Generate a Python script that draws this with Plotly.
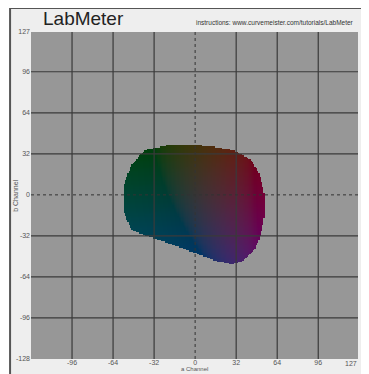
import numpy as np
import plotly.graph_objects as go

# ---- data ----
title_text = "LabMeter"
note_text = "instructions: www.curvemeister.com/tutorials/LabMeter"
x_tick_vals = [-96, -64, -32, 0, 32, 64, 96]
x_end_tick = 127
y_tick_vals = [-128, -96, -64, -32, 0, 32, 64, 96, 127]
grid_vals = [-96, -64, -32, 32, 64, 96]
# outline of the gamut blob (a, b)
outline_a = [-39, -49, -55, -55, -49, -34, -16, 3, 16, 29, 39, 47, 52, 55, 55, 51, 45, 31, 13, -2, -20]
outline_b = [35, 23, 8, -13, -27, -33, -39, -46, -51, -54, -51, -43, -31, -16, 0, 16, 27, 35, 38, 39, 39]
lightness = 22
a_scale = 0.95
b_scale = 0.7


def lab_to_rgb(L, a, b):
    fy = (L + 16) / 116.0
    fx = fy + a / 500.0
    fz = fy - b / 200.0
    def finv(t):
        return np.where(t > 6 / 29, t ** 3, 3 * (6 / 29) ** 2 * (t - 4 / 29))
    X = 0.95047 * finv(fx)
    Y = 1.0 * finv(fy)
    Z = 1.08883 * finv(fz)
    r = 3.2406 * X - 1.5372 * Y - 0.4986 * Z
    g = -0.9689 * X + 1.8758 * Y + 0.0415 * Z
    bb = 0.0557 * X - 0.2040 * Y + 1.0570 * Z
    def gam(c):
        c = np.clip(c, 0, 1)
        return np.where(c <= 0.0031308, 12.92 * c, 1.055 * c ** (1 / 2.4) - 0.055)
    return gam(r) * 255, gam(g) * 255, gam(bb) * 255


def inside(px, py, vx, vy):
    vx = np.asarray(vx, float)
    vy = np.asarray(vy, float)
    res = np.zeros(px.shape, bool)
    n = len(vx)
    j = n - 1
    for i in range(n):
        cond = ((vy[i] > py) != (vy[j] > py))
        xint = (vx[j] - vx[i]) * (py - vy[i]) / (vy[j] - vy[i] + 1e-12) + vx[i]
        res ^= cond & (px < xint)
        j = i
    return res


grid = np.arange(-128, 128)
A, B = np.meshgrid(grid, grid)  # row 0 -> b=-128
mask = inside(A + 0.5, B + 0.5, outline_a, outline_b)
R, G, Bl = lab_to_rgb(lightness, A * a_scale, B * b_scale)
img = np.zeros(A.shape + (4,))
img[..., 0] = R
img[..., 1] = G
img[..., 2] = Bl
img[..., 3] = np.where(mask, 1.0, 0.0)

fig = go.Figure()
fig.add_trace(go.Image(z=img, colormodel="rgba", x0=-128, dx=1, y0=-128, dy=1,
                       hoverinfo="skip"))

shapes = []
# outer panel (paper coords; plot area spans 0..1)
shapes.append(dict(type="rect", xref="paper", yref="paper", x0=-0.064, x1=1.012, y0=-0.1, y1=1.07,
                   fillcolor="#eeeeee", line=dict(width=0), layer="below"))
shapes.append(dict(type="line", xref="paper", yref="paper", x0=-0.064, x1=1.012, y0=1.07, y1=1.07,
                   line=dict(color="#555555", width=2), layer="below"))
shapes.append(dict(type="line", xref="paper", yref="paper", x0=-0.064, x1=-0.064, y0=-0.1, y1=1.07,
                   line=dict(color="#555555", width=2), layer="below"))
shapes.append(dict(type="rect", xref="x", yref="y", x0=-128, x1=127, y0=-128, y1=127,
                   fillcolor="#979797", line=dict(width=0), layer="below"))
for v in grid_vals:
    shapes.append(dict(type="line", xref="x", yref="y", x0=v, x1=v, y0=-128, y1=127,
                       line=dict(color="#3a3a3a", width=1.2), layer="above"))
    shapes.append(dict(type="line", xref="x", yref="y", x0=-128, x1=127, y0=v, y1=v,
                       line=dict(color="#3a3a3a", width=1.2), layer="above"))
shapes.append(dict(type="line", xref="x", yref="y", x0=0, x1=0, y0=-128, y1=127,
                   line=dict(color="#333333", width=1, dash="dot"), layer="above"))
shapes.append(dict(type="line", xref="x", yref="y", x0=-128, x1=127, y0=0, y1=0,
                   line=dict(color="#333333", width=1, dash="dot"), layer="above"))

fig.update_layout(
    width=361, height=366,
    margin=dict(l=23, r=11, t=23, b=14),
    paper_bgcolor="white", plot_bgcolor="rgba(0,0,0,0)",
    shapes=shapes,
    showlegend=False,
    font=dict(family="Liberation Sans, Arial, sans-serif", color="#555555", size=7),
    annotations=[
        dict(text=title_text, xref="paper", yref="paper", x=0.03, y=1.0, xanchor="left", yanchor="bottom",
             showarrow=False, font=dict(size=19, color="#222222")),
        dict(text=note_text, xref="paper", yref="paper", x=0.995, y=1.01, xanchor="right", yanchor="bottom",
             showarrow=False, font=dict(size=6.5, color="#333333")),
        dict(text="b Channel", xref="paper", yref="paper", x=-0.048, y=0.5, xanchor="center", yanchor="middle",
             textangle=-90, showarrow=False, font=dict(size=7, color="#555555")),
        dict(text="a Channel", xref="paper", yref="paper", x=0.5, y=0, xanchor="center", yanchor="bottom",
             yshift=-14, showarrow=False, font=dict(size=6, color="#555555")),
        dict(text=str(x_end_tick), xref="x", yref="paper", x=x_end_tick, y=0, xanchor="right", yanchor="top",
             xshift=1, yshift=2, showarrow=False, font=dict(size=7, color="#555555")),
    ],
)
fig.update_xaxes(range=[-128, 127], tickvals=x_tick_vals, ticktext=[str(v) for v in x_tick_vals],
                 showgrid=False, zeroline=False, showline=False, ticks="", ticklen=0,
                 ticklabeloverflow="allow", ticklabelstandoff=-2,
                 tickfont=dict(size=7, color="#555555"), automargin=False, fixedrange=True)
fig.update_yaxes(range=[-128, 127], tickvals=y_tick_vals, ticktext=[str(v) for v in y_tick_vals],
                 showgrid=False, zeroline=False, showline=False, ticks="", ticklen=0,
                 tickfont=dict(size=7, color="#555555"), autorange=False, automargin=False,
                 fixedrange=True)

fig.write_html("out.html")
